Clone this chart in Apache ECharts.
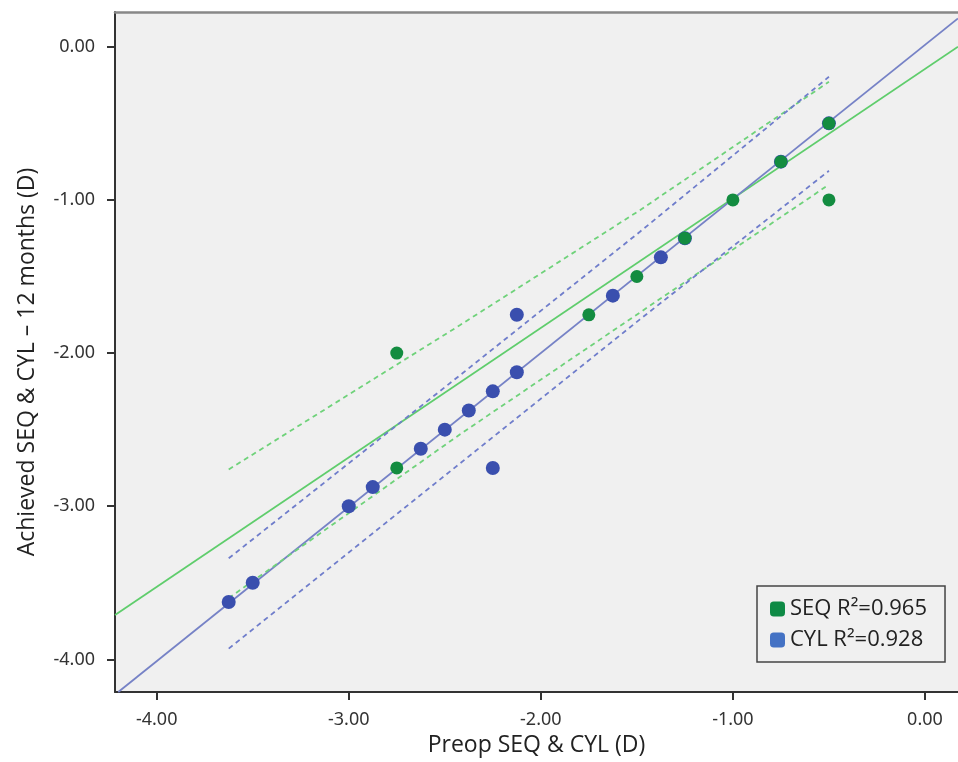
<!DOCTYPE html>
<html><head><meta charset="utf-8">
<script src="https://cdn.jsdelivr.net/npm/echarts@6/dist/echarts.min.js"></script>
<style>html,body{margin:0;padding:0;background:#fff}#c{width:958px;height:762px}</style>
</head><body><div id="c"></div>
<script>
// Data
const xTicks = [-4, -3, -2, -1, 0];
const yTicks = [0, -1, -2, -3, -4];
const seqPoints = [[-0.5,-0.5],[-0.5,-1.0],[-0.75,-0.75],[-1.0,-1.0],[-1.25,-1.25],[-1.5,-1.5],[-1.75,-1.75],[-2.75,-2.0],[-2.75,-2.75]];
const cylPoints = [[-3.625,-3.625],[-3.5,-3.5],[-3.0,-3.0],[-2.875,-2.875],[-2.625,-2.625],[-2.5,-2.5],[-2.375,-2.375],[-2.25,-2.25],[-2.25,-2.75],[-2.125,-2.125],[-2.125,-1.75],[-1.625,-1.625],[-1.375,-1.375],[-1.25,-1.25],[-0.75,-0.75],[-0.5,-0.5]];
const seqFit = [[-4.217,-3.71],[0.172,0.0]];
const cylFit = [[-4.20,-4.213],[0.172,0.185]];
const seqUpper = [[-3.625,-2.76],[-2.42,-1.817],[-1.484,-1.067],[-0.5,-0.229]];
const seqLower = [[-3.625,-3.60],[-2.42,-2.53],[-1.484,-1.735],[-0.5,-0.90]];
const cylUpper = [[-3.625,-3.34],[-2.42,-2.144],[-1.484,-1.208],[-0.5,-0.196]];
const cylLower = [[-3.625,-3.93],[-2.42,-2.72],[-1.484,-1.78],[-0.5,-0.81]];
const seqName = 'SEQ R\u00B2=0.965';
const cylName = 'CYL R\u00B2=0.928';

const chart = echarts.init(document.getElementById('c'));
const fmt = v => v.toFixed(2);
const axisCol = '#333';
const tickFont = {fontFamily:'Noto Sans', fontSize:18, color:'#333'};
const titleFont = 'Open Sans';
const lineSeries = (data, color, dashed, z) => ({
  type:'line', data, symbol:'none', silent:true, z, animation:false,
  lineStyle:{color, width: dashed?1.8:1.8, type: dashed?[5,4]:'solid'}
});
chart.setOption({
  animation:false,
  grid:{left:115, right:0, top:12, bottom:70, show:true, backgroundColor:'#f0f0f0', borderWidth:0},
  xAxis:[{
    type:'value', min:-4.217, max:0.172, splitLine:{show:false},
    axisLine:{onZero:false, lineStyle:{color:axisCol, width:2}},
    axisTick:{customValues:xTicks, length:8, lineStyle:{color:axisCol, width:2}},
    axisLabel:{customValues:xTicks, formatter:fmt, margin:19, ...tickFont},
    name:'Preop SEQ & CYL (D)', nameLocation:'middle', nameGap:41,
    nameTextStyle:{fontFamily:titleFont, fontSize:23, color:'#222'}
  },{
    type:'value', position:'top', min:-4.217, max:0.172,
    axisLine:{show:true, onZero:false, lineStyle:{color:'#888', width:2.5}},
    axisTick:{show:false}, axisLabel:{show:false}, splitLine:{show:false}
  }],
  yAxis:{
    type:'value', min:-4.213, max:0.227, splitLine:{show:false},
    axisLine:{onZero:false, lineStyle:{color:axisCol, width:2}},
    axisTick:{customValues:yTicks, length:8, lineStyle:{color:axisCol, width:2}},
    axisLabel:{customValues:yTicks, formatter:fmt, margin:20, ...tickFont}
  },
  graphic:[{type:'text', x:27, y:362, rotation:Math.PI/2,
    style:{text:'Achieved SEQ & CYL \u2013 12 months (D)', align:'center', verticalAlign:'middle',
      font:'23px "Open Sans"', fill:'#222'}}],
  legend:{
    orient:'vertical', left:757, top:586,
    data:[{name:seqName, itemStyle:{color:'#0e8a45'}},{name:cylName, itemStyle:{color:'#4472c4'}}],
    icon:'roundRect', itemWidth:15, itemHeight:15, itemGap:9, itemTextGap:6,
    textStyle:{fontFamily:titleFont, fontSize:22, lineHeight:20, color:'#222'},
    padding:[12,18,11,13], borderColor:'#444', borderWidth:1.5, backgroundColor:'#f0f0f0',
    selectedMode:false
  },
  series:[
    lineSeries(seqFit, '#5fcd6c', false, 2),
    lineSeries(cylFit, '#7682c6', false, 2),
    lineSeries(seqUpper, '#6fd27a', true, 2),
    lineSeries(seqLower, '#6fd27a', true, 2),
    lineSeries(cylUpper, '#6f7dcb', true, 2),
    lineSeries(cylLower, '#6f7dcb', true, 2),
    {type:'scatter', name:cylName, data:cylPoints, symbolSize:14, z:5,
      itemStyle:{color:'#3a4fae', opacity:1}},
    {type:'scatter', name:seqName, data:seqPoints, symbolSize:13, z:6,
      itemStyle:{color:'#138c40', opacity:1}}
  ]
});
</script></body></html>
